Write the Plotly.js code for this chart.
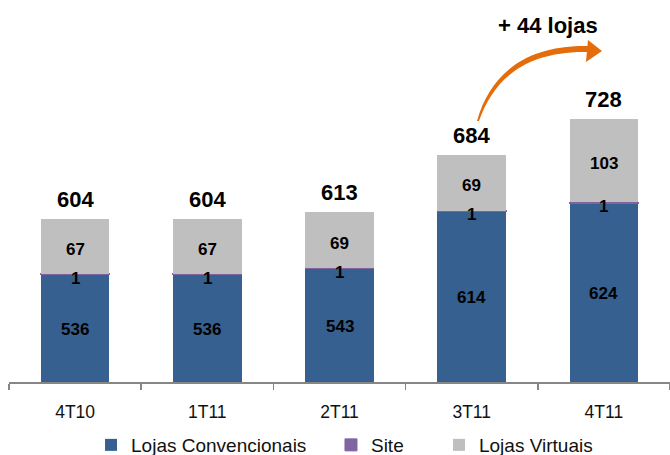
<!DOCTYPE html>
<html>
<head>
<meta charset="utf-8">
<script src="https://cdn.plot.ly/plotly-3.0.1.min.js"></script>
<style>html,body{margin:0;padding:0;background:#fff;}#chart{width:670px;height:455px;}</style>
</head>
<body>
<div id="chart"></div>
<script>
// ---- data ----
const categories = ["4T10", "1T11", "2T11", "3T11", "4T11"];
const lojasConvencionais = [536, 536, 543, 614, 624];
const site = [1, 1, 1, 1, 1];
const lojasVirtuais = [67, 67, 69, 69, 103];
const seriesNames = ["Lojas Convencionais", "Site", "Lojas Virtuais"];
const growthLabel = "+ 44 lojas";

// ---- styling ----
const FONT = "Liberation Sans, Arial, sans-serif";
const colors = ["#36608F", "#8064A2", "#BFBFBF"];
const yRange = [403, 863];
const totals = categories.map((c, i) => lojasConvencionais[i] + site[i] + lojasVirtuais[i]);

const legendIds = ["legend", "legend2", "legend3"];
function barTrace(k, vals, withLine) {
  return {
    type: "bar", name: seriesNames[k], x: categories, y: vals, legend: legendIds[k],
    marker: { color: colors[k], line: withLine ? { color: colors[k], width: 1 } : { width: 0 } },
    textposition: "none", hoverinfo: "skip"
  };
}

const data = [
  barTrace(0, lojasConvencionais, false),
  barTrace(1, site, true),
  barTrace(2, lojasVirtuais, false)
];

// plot area geometry (pixels) used for decorative arrow / text placement
const L = 9, R = 0, T = 10, B = 73, W = 670, H = 455;
const pw = W - L - R, ph = H - T - B;
const px = v => +((v - L) / pw).toFixed(4);
const py = v => +((H - B - v) / ph).toFixed(4);
function P(x, y) { return px(x) + "," + py(y); }

const arrowBody = "M" + P(477, 121) + " C" + P(490, 75) + " " + P(525, 44) + " " + P(590, 46) +
  " L" + P(590, 52) + " C" + P(527, 50) + " " + P(494, 78) + " " + P(479, 121) + " Z";
const arrowHead = "M" + P(588, 40) + " L" + P(602, 51) + " L" + P(586, 62) + " Z";

const segFont = { family: FONT, size: 17, color: "#000", weight: "bold" };
const annotations = [];
categories.forEach((c, i) => {
  // totals above bars
  annotations.push({ x: c, y: totals[i], xref: "x", yref: "y", text: String(totals[i]),
    showarrow: false, yanchor: "bottom", yshift: 5,
    font: { family: FONT, size: 22, color: "#000", weight: "bold" } });
  // blue segment (visible part starts at axis minimum)
  annotations.push({ x: c, y: (Math.max(yRange[0], 0) + lojasConvencionais[i]) / 2, xref: "x", yref: "y",
    text: String(lojasConvencionais[i]), showarrow: false, yanchor: "middle", yshift: -1, font: segFont });
  // site segment
  annotations.push({ x: c, y: lojasConvencionais[i] + site[i] / 2, xref: "x", yref: "y",
    text: String(site[i]), showarrow: false, yanchor: "middle", yshift: -4, font: segFont });
  // gray segment
  const base = lojasConvencionais[i] + site[i];
  annotations.push({ x: c, y: base + lojasVirtuais[i] / 2, xref: "x", yref: "y",
    text: String(lojasVirtuais[i]), showarrow: false, yanchor: "middle", yshift: -3, font: segFont });
});
annotations.push({
  x: px(548), y: py(26), xref: "paper", yref: "paper", text: growthLabel,
  showarrow: false, xanchor: "center", yanchor: "middle",
  font: { family: FONT, size: 22, color: "#000", weight: "bold" }
});

const legFont = { family: FONT, size: 19, color: "#111" };
const legY = py(445);
function leg(textStart) {
  return { orientation: "h", x: px(textStart - 40), xanchor: "left", y: legY, yanchor: "middle",
    font: legFont, bgcolor: "rgba(0,0,0,0)", borderwidth: 0 };
}

const layout = {
  width: W, height: H,
  margin: { l: L, r: R, t: T, b: B, pad: 0, autoexpand: false },
  paper_bgcolor: "#fff", plot_bgcolor: "#fff",
  barmode: "stack", bargap: 0.48,
  showlegend: true,
  legend: leg(131), legend2: leg(371), legend3: leg(479),
  xaxis: {
    type: "category", showline: true, linecolor: "#868686", linewidth: 1.5,
    ticks: "outside", tickson: "boundaries", ticklen: 6, tickcolor: "#868686", tickwidth: 1.5,
    ticklabelstandoff: 13,
    tickfont: { family: FONT, size: 17.5, color: "#111" },
    showgrid: false, zeroline: false, fixedrange: true
  },
  yaxis: { visible: false, range: yRange, showgrid: false, zeroline: false, fixedrange: true },
  annotations: annotations,
  shapes: [
    { type: "path", xref: "paper", yref: "paper", path: arrowBody, fillcolor: "#E46C0A", line: { width: 0 } },
    { type: "path", xref: "paper", yref: "paper", path: arrowHead, fillcolor: "#E46C0A", line: { width: 0 } }
  ]
};

Plotly.newPlot("chart", data, layout, { staticPlot: true, displayModeBar: false });
</script>
</body>
</html>
